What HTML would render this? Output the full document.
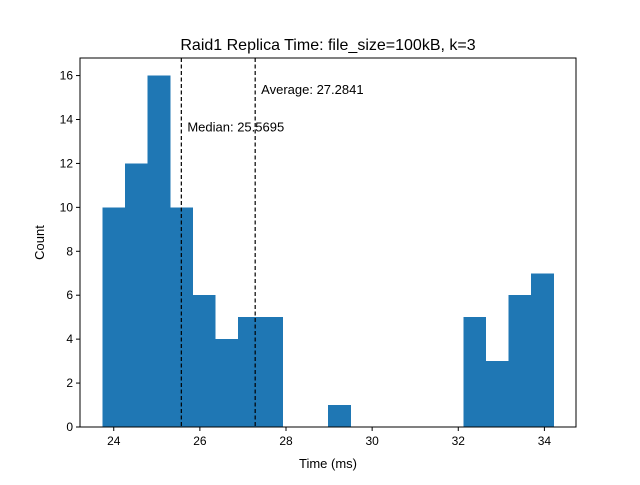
<!DOCTYPE html>
<html><head><meta charset="utf-8"><style>
body{margin:0;background:#fff;font-family:"Liberation Sans","DejaVu Sans",sans-serif}
</style></head><body>
<svg id="chart" width="640" height="480" xmlns="http://www.w3.org/2000/svg">
<rect width="640" height="480" fill="#fff"/>
</svg>
<script>
const binStart = 23.74;
const binWidth = 0.5235;
const counts = [10,12,16,10,6,4,5,5,0,0,1,0,0,0,0,0,5,3,6,7];
const xTicks = [24,26,28,30,32,34];
const yTicks = [0,2,4,6,8,10,12,14,16];
const median = 25.5695;
const average = 27.2841;
const NS = "http://www.w3.org/2000/svg";
const svg = document.getElementById('chart');
const L=80,R=576,T=58,B=427;
const xMin = binStart - 0.05*binWidth*counts.length, xMax = binStart + 1.05*binWidth*counts.length;
const yMax = Math.max(...counts)*1.05;
const xs = v => L + (v-xMin)/(xMax-xMin)*(R-L);
const ys = v => B - v/yMax*(B-T);
function el(tag, attrs, text){const e=document.createElementNS(NS,tag);for(const k in attrs)e.setAttribute(k,attrs[k]);if(text!==undefined)e.textContent=text;svg.appendChild(e);return e;}
counts.forEach((c,i)=>{
  const x0=xs(binStart+i*binWidth), x1=xs(binStart+(i+1)*binWidth);
  const r=el('rect',{x:x0,y:ys(c),width:x1-x0+0.3,height:B-ys(c),fill:'#1f77b4','shape-rendering':'crispEdges'});
  
  
});
[[median,'Median: '+median,ys(13.5)-4],[average,'Average: '+average,ys(15.2)-4]].forEach(([v,label,ty])=>{
  const l=el('line',{x1:xs(v),x2:xs(v),y1:T,y2:B,stroke:'#000','stroke-width':1.2,'stroke-dasharray':'4,2.5'});
  
  
  const t=el('text',{x:xs(v)+6,y:ty+5,'font-size':13,fill:'#000'},label);
  
  
});
const frame=el('rect',{x:L,y:T,width:R-L,height:B-T,fill:'none',stroke:'#000','stroke-width':1});


xTicks.forEach(v=>{
  el('line',{x1:xs(v),x2:xs(v),y1:B,y2:B+4,stroke:'#000'});
  const t=el('text',{x:xs(v),y:B+18,'font-size':12,'text-anchor':'middle'},v);
  
  
});
yTicks.forEach(v=>{
  el('line',{x1:L-4,x2:L,y1:ys(v),y2:ys(v),stroke:'#000'});
  const t=el('text',{x:L-7,y:ys(v)+4,'font-size':12,'text-anchor':'end'},v);
  
  
});
const xt=el('text',{x:(L+R)/2,y:468,'font-size':13,'text-anchor':'middle'},'Time (ms)');


const yt=el('text',{x:44,y:(T+B)/2,'font-size':13,'text-anchor':'middle',transform:`rotate(-90 44 ${(T+B)/2})`},'Count');


const tt=el('text',{x:(L+R)/2,y:50,'font-size':16,'text-anchor':'middle'},'Raid1 Replica Time: file_size=100kB, k=3');


</script>
</body></html>
